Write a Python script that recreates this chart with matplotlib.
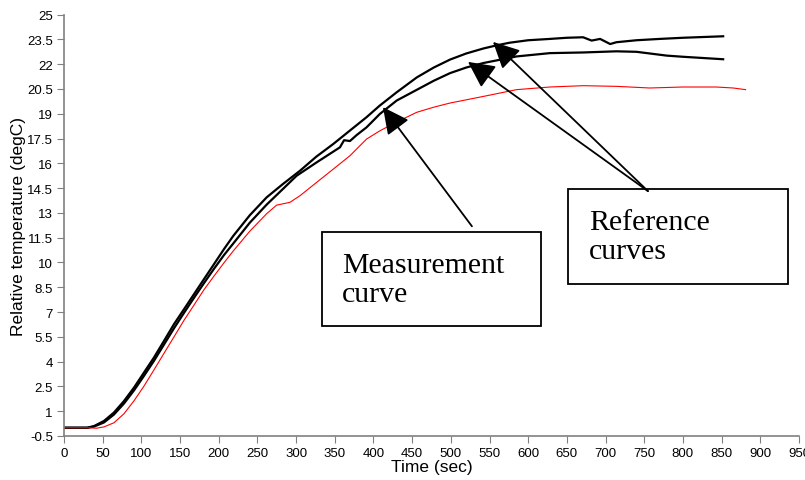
import matplotlib
matplotlib.use("Agg")
import matplotlib.pyplot as plt
from matplotlib.patches import Rectangle

# upper reference curve
ref1_t = [0, 30, 38.8, 51.7, 64.6, 77.6, 90.5, 103.4, 116.3, 129.2, 142.2, 155.1, 168, 180.9,
          193.9, 206.8, 218.8, 240, 261.9, 283, 305, 326, 348, 370, 391, 408, 430, 456, 478,
          499, 520, 542, 560, 576, 600, 628, 650, 671, 682, 693, 706, 714, 740, 770, 800, 852]
ref1_v = [0.0, 0.0, 0.1, 0.41, 0.92, 1.62, 2.43, 3.34, 4.25, 5.25, 6.27, 7.17, 8.08, 8.99,
          9.9, 10.81, 11.61, 12.85, 13.94, 14.75, 15.55, 16.4, 17.17, 18.0, 18.79, 19.49,
          20.3, 21.2, 21.8, 22.28, 22.65, 22.95, 23.15, 23.3, 23.45, 23.53, 23.6, 23.63,
          23.43, 23.53, 23.22, 23.33, 23.45, 23.53, 23.6, 23.69]

# lower reference curve
ref2_t = [0, 30, 38.8, 51.7, 64.6, 77.6, 90.5, 103.4, 116.3, 129.2, 142.2, 155.1, 168, 180.9,
          193.9, 206.8, 218.8, 240, 261.9, 283, 300.7, 326.6, 356.7, 362, 369.6, 378, 391.1,
          408.3, 430, 456, 478, 499, 520, 542, 585, 628, 671, 714, 740, 779, 800, 852]
ref2_v = [0.0, 0.0, 0.07, 0.32, 0.8, 1.47, 2.26, 3.14, 4.05, 5.03, 6.02, 6.95, 7.86, 8.75,
          9.62, 10.45, 11.15, 12.4, 13.5, 14.45, 15.25, 16.06, 16.97, 17.4, 17.35, 17.7, 18.18,
          18.99, 19.8, 20.45, 21.0, 21.46, 21.8, 22.07, 22.47, 22.67, 22.71, 22.78, 22.75,
          22.52, 22.45, 22.3]

# measurement curve
meas_t = [0, 30, 42, 51.7, 64.6, 77.6, 90.5, 103.4, 116.3, 129.2, 142.2, 155.1, 168, 180.9,
          193.9, 206.8, 218.8, 240.3, 261.9, 274.8, 292, 305, 326.6, 348, 369.6, 391.1, 408.3,
          430, 456, 478, 499, 542, 585, 628, 671, 714, 757, 800, 843, 865, 881]
meas_v = [0.0, 0.0, -0.03, 0.05, 0.3, 0.85, 1.63, 2.52, 3.5, 4.5, 5.5, 6.5, 7.42, 8.35,
          9.18, 9.98, 10.7, 11.9, 12.95, 13.47, 13.64, 14.04, 14.85, 15.65, 16.46, 17.47,
          17.97, 18.5, 19.09, 19.4, 19.65, 20.05, 20.46, 20.62, 20.7, 20.66, 20.56, 20.62,
          20.62, 20.56, 20.46]

x_ticks = list(range(0, 951, 50))
y_ticks = [-0.5 + 1.5 * i for i in range(18)]
y_labels = ["%g" % v for v in y_ticks]

fig = plt.figure(figsize=(8.05, 4.81), dpi=100)
ax = fig.add_axes([0.0795, 0.0915, 0.913, 0.876])

ax.plot(ref1_t, ref1_v, color="black", linewidth=1.6)
ax.plot(ref2_t, ref2_v, color="black", linewidth=1.6)
ax.plot(meas_t, meas_v, color="red", linewidth=0.8)

ax.set_xlim(0, 950)
ax.set_ylim(-0.5, 25)
ax.set_xticks(x_ticks)
ax.set_yticks(y_ticks)
ax.set_yticklabels(y_labels)

for s in ["top", "right"]:
    ax.spines[s].set_visible(False)
for s in ["left", "bottom"]:
    ax.spines[s].set_color("#808080")
    ax.spines[s].set_linewidth(1.2)
ax.tick_params(direction="out", length=5, color="#808080", labelsize=9.5, pad=3)
for lab in ax.get_xticklabels() + ax.get_yticklabels():
    lab.set_family("Liberation Sans")

ax.set_xlabel("Time (sec)", family="Liberation Sans", fontsize=12.5, labelpad=0)
ax.set_ylabel("Relative temperature (degC)", family="Liberation Sans", fontsize=12.5, labelpad=1)

# text boxes
ax.add_patch(Rectangle((333.5, 6.15), 283, 5.69, fill=False, edgecolor="black", lw=1.3, clip_on=False))
ax.text(359, 9.0, "Measurement\ncurve", family="Liberation Serif", fontsize=21.5,
        ha="left", va="center", linespacing=1.15)
ax.add_patch(Rectangle((651.4, 8.69), 284.4, 5.75, fill=False, edgecolor="black", lw=1.3, clip_on=False))
ax.text(678.6, 11.57, "Reference\ncurves", family="Liberation Serif", fontsize=21.5,
        ha="left", va="center", linespacing=1.15)

arrow = dict(arrowstyle="-|>,head_length=0.9,head_width=0.45", color="black", lw=1.3,
             shrinkA=0, shrinkB=0, mutation_scale=18)
ax.annotate("", xy=(412.3, 19.4), xytext=(527.3, 12.19), arrowprops=arrow)
ax.annotate("", xy=(522.2, 22.14), xytext=(754.8, 14.32), arrowprops=arrow)
ax.annotate("", xy=(554.5, 23.35), xytext=(754.8, 14.32), arrowprops=arrow)

fig.savefig("out.png", dpi=100)
